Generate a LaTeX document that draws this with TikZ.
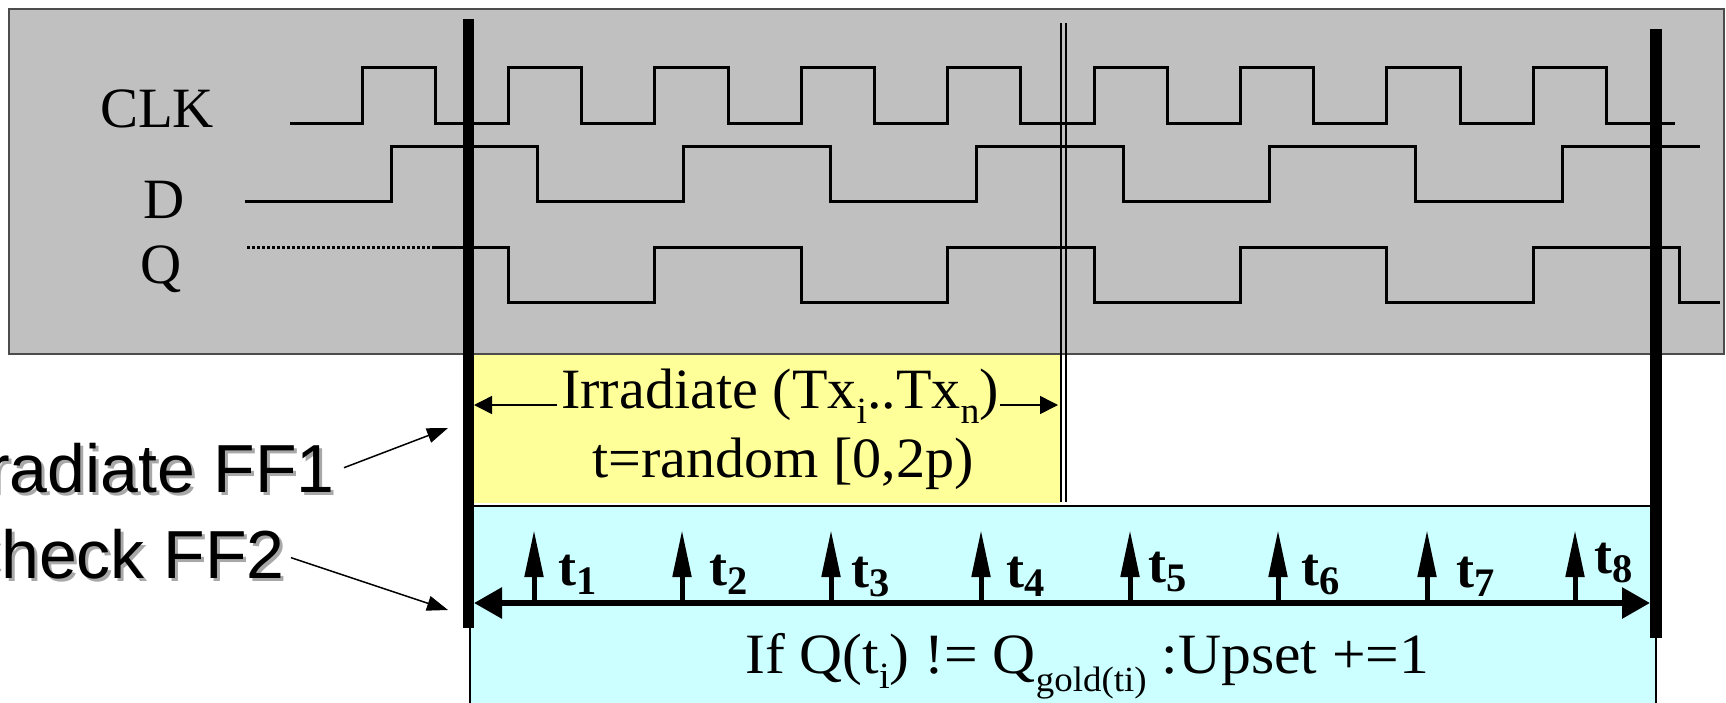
\documentclass[tikz,border=0pt]{standalone}
\usepackage{fontspec}
\usepackage{graphicx}
\setmainfont{Liberation Serif}
\newfontfamily\arialfont{Liberation Sans}
\usetikzlibrary{arrows.meta}
\definecolor{graybg}{HTML}{C0C0C0}
\definecolor{yellowbg}{HTML}{FFFF99}
\definecolor{cyanbg}{HTML}{CCFFFF}
\definecolor{shadowgray}{HTML}{A8A8A8}
\newcommand\lowsub[1]{\raisebox{-0.27em}{\scalebox{0.65}{#1}}}
\newcommand\deepsub[1]{\raisebox{-0.33em}{\scalebox{0.62}{#1}}}
\newcommand\tsub[1]{\raisebox{-0.18em}{\scalebox{0.75}{#1}}}
\begin{document}
\begin{tikzpicture}[x=1pt,y=-1pt,
  wave/.style={line width=3pt, line join=miter},
  bar/.style={line width=11pt},
  thinline/.style={line width=2pt},
  sig/.style={inner sep=0pt, font=\fontsize{57}{60}\selectfont},
  txt/.style={inner sep=0pt, font=\fontsize{57}{60}\selectfont},
  tlbl/.style={inner sep=0pt, font=\fontsize{54}{56}\selectfont\bfseries},
  side/.style={inner sep=0pt, font=\arialfont\fontsize{68}{72}\selectfont},
  thinarrow/.style={line width=1.5pt, -{Triangle[length=18pt,width=18pt]}},
  ptrarrow/.style={line width=1.5pt, -{Triangle[length=21pt,width=15pt]}},
  tarrow/.style={line width=5pt, -{Triangle[length=47pt,width=18pt]}},
  bigarrow/.style={line width=6pt, {Triangle[length=28pt,width=30pt]}-{Triangle[length=28pt,width=30pt]}}
]
\useasboundingbox (0,0) rectangle (1726,702);

% backgrounds
\filldraw[fill=graybg, draw=black!70, line width=2pt] (9,9) rectangle (1724,354);
\fill[yellowbg] (468,355) rectangle (1061,503);
\fill[cyanbg] (470,506) rectangle (1656,710);
\draw[line width=2.5pt] (470,506) -- (1656,506);
\draw[line width=1.5pt] (470,506) -- (470,710);
\draw[line width=1.5pt] (1656,506) -- (1656,710);

% signal labels
\node[sig, anchor=base] (clk) at (157,127) {CLK};
\node[sig, anchor=base] (dl) at (164,218) {D};
\node[sig, anchor=base] (ql) at (161,283) {Q};

% waveforms
\draw[wave] (290,123) -| (362,67) -| (435.2,123) -| (508.4,67) -| (581.6,123)
  -| (654.8,67) -| (728,123) -| (801.2,67) -| (874.4,123) -| (947.6,67)
  -| (1020.8,123) -| (1094,67) -| (1167.2,123) -| (1240.4,67) -| (1313.6,123)
  -| (1386.8,67) -| (1460,123) -| (1533.2,67) -| (1606.4,123) -- (1675,123);
\draw[wave] (245,201) -| (391,146) -| (537.4,201) -| (683.8,146) -| (830.2,201)
  -| (976.6,146) -| (1123,201) -| (1269.4,146) -| (1415.8,201) -| (1562.2,146) -- (1700,146);
\draw[line width=3pt, dash pattern=on 3pt off 2pt] (247,247) -- (434,247);
\draw[wave] (434,247) -| (508.4,302) -| (654.8,247) -| (801.2,302) -| (947.6,247)
  -| (1094,302) -| (1240.4,247) -| (1386.8,302) -| (1533.2,247) -| (1679.6,302) -- (1720,302);

% thick vertical markers
\coordinate (l1top) at (468,19);
\coordinate (l1bot) at (468,628);
\coordinate (l2top) at (1656,29);
\coordinate (l2bot) at (1656,638);
\draw[bar] (l1top) -- (l1bot);
\draw[line width=12pt] (l2top) -- (l2bot);
\coordinate (d1top) at (1061,23);
\coordinate (d1bot) at (1061,502);
\coordinate (d2top) at (1066,23);
\coordinate (d2bot) at (1066,502);
\draw[thinline] (d1top) -- (d1bot);
\draw[thinline] (d2top) -- (d2bot);

% irradiate window
\node[txt, anchor=base west] (irr) at (561,408) {\scalebox{1.02}[1]{Irradiate (Tx\lowsub{i}..Tx\lowsub{n})}};
\node[txt, anchor=base west] (rnd) at (592,477) {\scalebox{1.02}[1]{t=random [0,2p)}};
\coordinate (irrL) at (474,405);
\coordinate (irrR) at (1058,405);
\draw[thinarrow] ([xshift=-4pt]irr.west |- irrL) -- (irrL);
\draw[thinarrow] ([xshift=1pt]irr.east |- irrR) -- (irrR);

% check window
\coordinate (hl) at (474,603);
\coordinate (hr) at (1650,603);
\draw[bigarrow] (hl) -- (hr);
\foreach \x/\o/\yy/\i in {534/24/585/1, 682/27/585/2, 831/20/587/3, 981/25/587/4,
                         1130/18/582/5, 1278/23/585/6, 1427/29/587/7, 1575/19/573/8} {
  \coordinate (tb\i) at (\x,604);
  \coordinate (tt\i) at (\x,530);
  \draw[tarrow] (tb\i) -- (tt\i);
  \node[tlbl, anchor=base west] (tl\i) at (\x+\o,\yy) {t\tsub{\i}};
}
\node[txt, anchor=base west] (cond) at (745,673)
  {\scalebox{1.045}[1]{If Q(t\lowsub{i}) != Q\deepsub{gold(ti)} :Upset +=1}};

% side labels with shadow
\node[side, anchor=base east, text=shadowgray] (ff1s) at (338,495) {Irradiate FF1};
\node[side, anchor=base east] (ff1) at (335,492) {Irradiate FF1};
\node[side, anchor=base east, text=shadowgray] (ff2s) at (288,581) {Check FF2};
\node[side, anchor=base east] (ff2) at (285,578) {Check FF2};
\coordinate (ff1tip) at (448,428);
\coordinate (ff2tip) at (448,610);
\draw[ptrarrow] ([xshift=9pt]ff1.east) -- (ff1tip);
\draw[ptrarrow] ([shift={(6,4)}]ff2.east) -- (ff2tip);
\end{tikzpicture}
\end{document}
